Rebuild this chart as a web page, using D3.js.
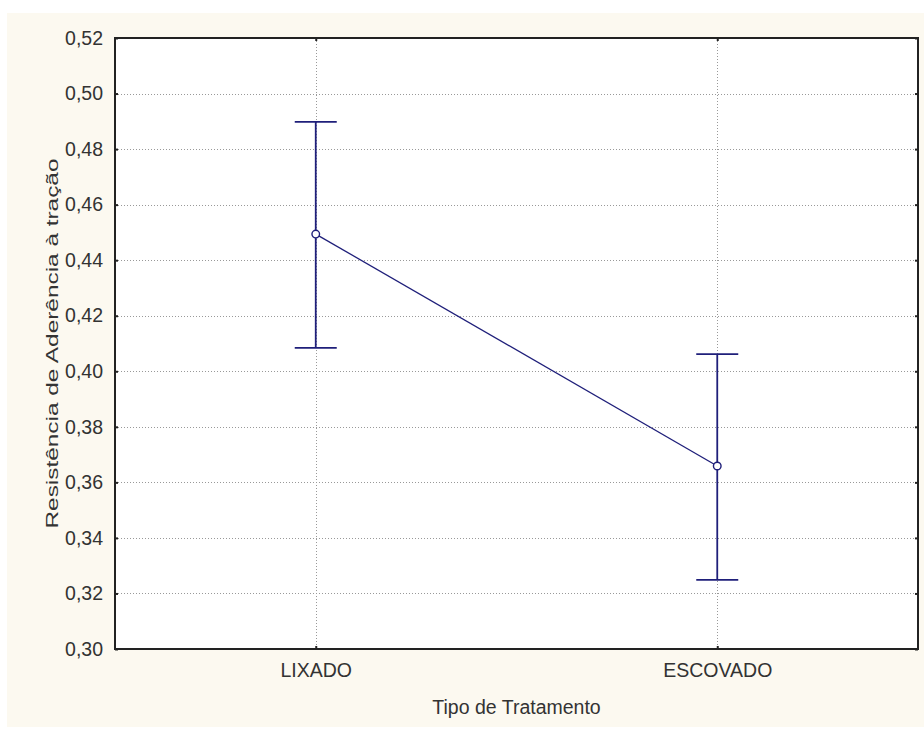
<!DOCTYPE html>
<html><head><meta charset="utf-8">
<script src="https://cdn.jsdelivr.net/npm/d3@7"></script>
<style>
body{margin:0;background:#fff;}
svg{display:block;}
text{font-family:"Liberation Sans",Arial,sans-serif;}
</style></head>
<body>
<svg id="c" width="924" height="729"></svg>
<script>
const categories = ["LIXADO", "ESCOVADO"];
const means = [0.4494, 0.3659];
const upper = [0.4898, 0.4062];
const lower = [0.4084, 0.3249];
const yTicks = [0.30, 0.32, 0.34, 0.36, 0.38, 0.40, 0.42, 0.44, 0.46, 0.48, 0.50, 0.52];
const xTitle = "Tipo de Tratamento";
const yTitle = "Resistência de Aderência à tração";

const svg = d3.select("#c");
const txt = "#333";
svg.append("rect").attr("x", 7).attr("y", 13).attr("width", 917).attr("height", 714).attr("fill", "#fcf9f0");

const L = 115, R = 918, T = 38, B = 649;
const x = d3.scalePoint().domain(categories).range([L, R]).padding(0.5);
const y = d3.scaleLinear().domain([0.30, 0.52]).range([B, T]);
const fmt = v => d3.format(".2f")(v).replace(".", ",");
const FS = 19.5;

svg.append("rect").attr("x", L).attr("y", T).attr("width", R - L).attr("height", B - T).attr("fill", "#fff");

// grid
const g = svg.append("g");
g.selectAll("line.hy").data(yTicks.filter(v => v > 0.30 && v < 0.52)).join("line")
  .attr("x1", L).attr("x2", R).attr("y1", d => Math.round(y(d)) + 0.5).attr("y2", d => Math.round(y(d)) + 0.5)
  .attr("stroke", "#999").attr("stroke-width", 1).attr("stroke-dasharray", "1,2");
g.selectAll("line.vx").data(categories).join("line")
  .attr("y1", T).attr("y2", B).attr("x1", d => Math.round(x(d)) + 0.5).attr("x2", d => Math.round(x(d)) + 0.5)
  .attr("stroke", "#999").attr("stroke-width", 1).attr("stroke-dasharray", "1,2");

// axes
const yAxisL = d3.axisLeft(y).tickValues(yTicks).tickFormat(fmt).tickSize(-3).tickPadding(12);
const ga = svg.append("g").attr("transform", `translate(${L},0)`).call(yAxisL);
ga.select(".domain").remove();
ga.selectAll("line").attr("stroke", "#222").attr("stroke-width", 2);
ga.selectAll("text").attr("font-size", FS).attr("font-family", "Liberation Sans, Arial, sans-serif").attr("fill", txt);

const yAxisR = d3.axisRight(y).tickValues(yTicks).tickFormat("").tickSize(-3);
const gr = svg.append("g").attr("transform", `translate(${R},0)`).call(yAxisR);
gr.select(".domain").remove();
gr.selectAll("line").attr("stroke", "#222").attr("stroke-width", 2);

const xAxisB = d3.axisBottom(x).tickSize(-3).tickPadding(14);
const gb = svg.append("g").attr("transform", `translate(0,${B})`).call(xAxisB);
gb.select(".domain").remove();
gb.selectAll("line").attr("stroke", "#222").attr("stroke-width", 2);
gb.selectAll("text").attr("font-size", FS).attr("font-family", "Liberation Sans, Arial, sans-serif").attr("fill", txt);

const xAxisT = d3.axisTop(x).tickSize(-3).tickFormat("");
const gt = svg.append("g").attr("transform", `translate(0,${T})`).call(xAxisT);
gt.select(".domain").remove();
gt.selectAll("line").attr("stroke", "#222").attr("stroke-width", 2);

// frame
svg.append("rect").attr("x", L).attr("y", T).attr("width", R - L).attr("height", B - T)
  .attr("fill", "none").attr("stroke", "#222").attr("stroke-width", 2);

// titles
svg.append("text").attr("x", (L + R) / 2).attr("y", 714).attr("text-anchor", "middle")
  .attr("font-size", FS).attr("fill", txt).text(xTitle);
svg.append("text").attr("transform", `translate(58,${(T + B) / 2}) rotate(-90)`).attr("text-anchor", "middle")
  .attr("font-size", 17).attr("textLength", 370).attr("lengthAdjust", "spacingAndGlyphs")
  .attr("fill", txt).text(yTitle);

// data
const col = "#1f1f7a";
const data = categories.map((c, i) => ({c, m: means[i], u: upper[i], l: lower[i]}));
svg.append("path").datum(data)
  .attr("d", d3.line().x(d => x(d.c)).y(d => y(d.m)))
  .attr("fill", "none").attr("stroke", col).attr("stroke-width", 1.3);
const eb = svg.append("g").selectAll("g").data(data).join("g");
eb.append("line").attr("x1", d => x(d.c)).attr("x2", d => x(d.c)).attr("y1", d => y(d.u)).attr("y2", d => y(d.l))
  .attr("stroke", col).attr("stroke-width", 1.8);
eb.append("line").attr("x1", d => x(d.c) - 21).attr("x2", d => x(d.c) + 21).attr("y1", d => y(d.u)).attr("y2", d => y(d.u))
  .attr("stroke", col).attr("stroke-width", 1.8);
eb.append("line").attr("x1", d => x(d.c) - 21).attr("x2", d => x(d.c) + 21).attr("y1", d => y(d.l)).attr("y2", d => y(d.l))
  .attr("stroke", col).attr("stroke-width", 1.8);
eb.append("circle").attr("cx", d => x(d.c)).attr("cy", d => y(d.m)).attr("r", 3.8)
  .attr("fill", "#fff").attr("stroke", col).attr("stroke-width", 1.4);
</script>
</body></html>
